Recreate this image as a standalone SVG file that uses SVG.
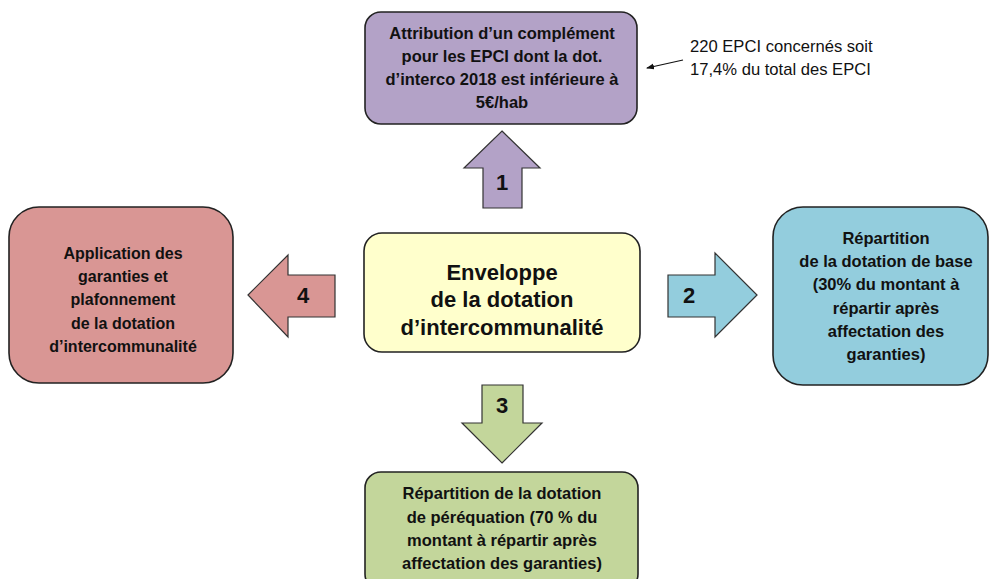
<svg xmlns="http://www.w3.org/2000/svg" width="989" height="579" viewBox="0 0 989 579">
<style>
.box{stroke:#222;stroke-width:1.6}
.arr{stroke:#333;stroke-width:1.2;stroke-linejoin:miter}
.t{font-family:"Liberation Sans",Arial,sans-serif;font-weight:bold;font-size:16.5px;fill:#111;text-anchor:middle}
.big{font-size:22px}
.num{font-size:22px}
.note{font-family:"Liberation Sans",Arial,sans-serif;font-size:16.6px;fill:#111}
</style>
<defs>
<marker id="ah" markerWidth="8" markerHeight="8" refX="7" refY="4" orient="auto" markerUnits="userSpaceOnUse">
<path d="M0,1 L8,4 L0,7 z" fill="#111"/>
</marker>
</defs>
<rect width="989" height="579" fill="#fff"/>
<g id="connectors">
<g id="arrow1">
<polygon class="arr" fill="#B3A2C7" points="502,131 540,168 522,168 522,208 483,208 483,168 464,168"/>
<text class="t num" x="502" y="190">1</text>
</g>
<g id="arrow2">
<polygon class="arr" fill="#93CDDD" points="757,295 715,337 715,317 668,317 668,275 715,275 715,253"/>
<text class="t num" x="689" y="303">2</text>
</g>
<g id="arrow3">
<polygon class="arr" fill="#C3D69B" points="502,463 542,423 523,423 523,385 482,385 482,423 462,423"/>
<text class="t num" x="502" y="413">3</text>
</g>
<g id="arrow4">
<polygon class="arr" fill="#D99694" points="248,295 288,255 288,275 335,275 335,317 288,317 288,337"/>
<text class="t num" x="303" y="303">4</text>
</g>
<line x1="683" y1="60" x2="647" y2="68" stroke="#111" stroke-width="1.2" marker-end="url(#ah)"/>
</g>
<g id="node-top">
<rect class="box" x="365" y="12" width="272" height="112" rx="16" fill="#B3A2C7"/>
<text class="t"><tspan x="502" y="39">Attribution d’un complément</tspan><tspan x="502" y="62">pour les EPCI dont la dot.</tspan><tspan x="502" y="85">d’interco 2018 est inférieure à</tspan><tspan x="502" y="108">5€/hab</tspan></text>
</g>
<g id="note">
<text class="note"><tspan x="690" y="52">220 EPCI concernés soit</tspan><tspan x="690" y="75">17,4% du total des EPCI</tspan></text>
</g>
<g id="node-center">
<rect class="box" x="364" y="233" width="276" height="119" rx="18" fill="#FFFFCC"/>
<text class="t big"><tspan x="502" y="280">Enveloppe</tspan><tspan x="502" y="307">de la dotation</tspan><tspan x="502" y="335">d’intercommunalité</tspan></text>
</g>
<g id="node-left">
<rect class="box" x="9" y="207" width="224" height="176" rx="30" fill="#D99694"/>
<text class="t" style="font-size:16px"><tspan x="123" y="259">Application des</tspan><tspan x="123" y="282">garanties et</tspan><tspan x="123" y="305">plafonnement</tspan><tspan x="123" y="329">de la dotation</tspan><tspan x="123" y="352">d’intercommunalité</tspan></text>
</g>
<g id="node-right">
<rect class="box" x="773" y="207" width="215" height="178" rx="30" fill="#93CDDD"/>
<text class="t"><tspan x="886" y="244">Répartition</tspan><tspan x="886" y="267">de la dotation de base</tspan><tspan x="886" y="290">(30% du montant à</tspan><tspan x="886" y="314">répartir après</tspan><tspan x="886" y="337">affectation des</tspan><tspan x="886" y="360">garanties)</tspan></text>
</g>
<g id="node-bottom">
<rect class="box" x="365" y="472" width="273" height="118" rx="16" fill="#C3D69B"/>
<text class="t"><tspan x="502" y="499">Répartition de la dotation</tspan><tspan x="502" y="523">de péréquation (70 % du</tspan><tspan x="502" y="546">montant à répartir après</tspan><tspan x="502" y="569">affectation des garanties)</tspan></text>
</g>
</svg>
